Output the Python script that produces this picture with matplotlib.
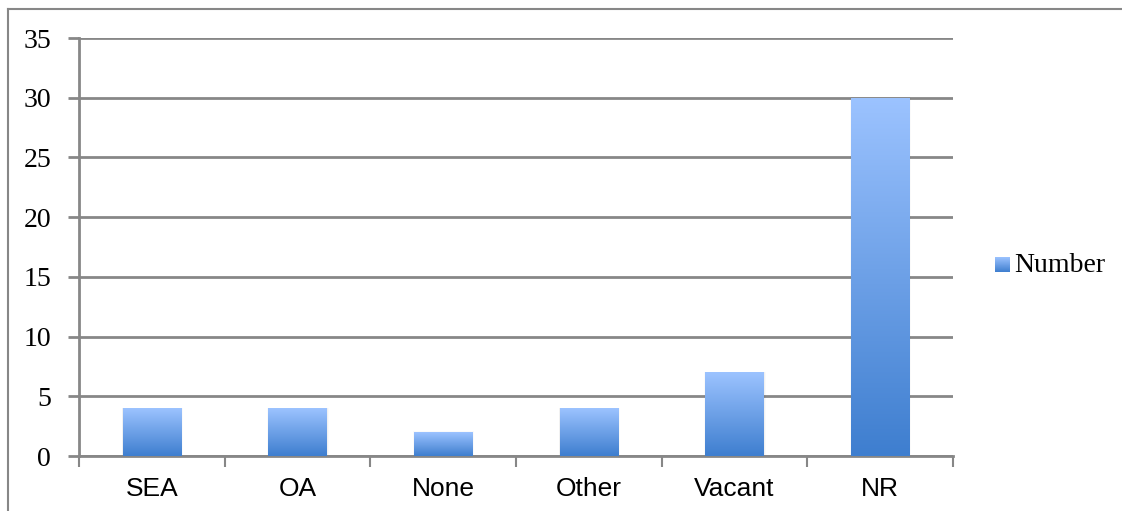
import numpy as np
import matplotlib
matplotlib.use("Agg")
import matplotlib.pyplot as plt
from matplotlib.colors import LinearSegmentedColormap
from matplotlib.lines import Line2D

categories = ["SEA", "OA", "None", "Other", "Vacant", "NR"]
values = [4, 4, 2, 4, 7, 30]
yticks = [0, 5, 10, 15, 20, 25, 30, 35]
series_name = "Number"

grid_col = "#878787"
blue_grad = LinearSegmentedColormap.from_list("bluegrad", ["#3e7ecf", "#9cc3ff"])
grad = np.linspace(0, 1, 256).reshape(-1, 1)

fig = plt.figure(figsize=(11.22, 5.11), dpi=100)
ax = fig.add_axes([79 / 1122, 55 / 511, 874 / 1122, 418 / 511])

x = np.arange(len(categories))
bars = ax.bar(x, values, width=0.4, facecolor="none", edgecolor="none", zorder=3)

# each bar gets its own vertical gradient, dark at the base
for b in bars:
    x0, y0 = b.get_x(), b.get_y()
    w, h = b.get_width(), b.get_height()
    # faint drop shadow
    for k, a in enumerate([0.035, 0.02]):
        d = 0.01 * (k + 1)
        ax.add_patch(plt.Rectangle((x0 - d * 0.3, y0), w + d, h + d * 3,
                                   facecolor="black", alpha=a, edgecolor="none", zorder=2))
    im = ax.imshow(grad, cmap=blue_grad, origin="lower", aspect="auto",
                   extent=[x0, x0 + w, y0, y0 + h], zorder=3)
    im.set_clip_path(b)

ax.set_xlim(-0.5, len(categories) - 0.5)
ax.set_ylim(0, 35)
ax.set_yticks(yticks)
ax.set_yticklabels([str(t) for t in yticks], family="Liberation Serif", fontsize=20)
ax.yaxis.grid(True, color=grid_col, linewidth=2, zorder=1)
ax.set_axisbelow(True)

ax.set_xticks(x)
ax.set_xticklabels(categories, family="Liberation Sans", fontsize=19)
ax.tick_params(axis="x", which="major", length=0, pad=15)
ax.set_xticks(np.arange(len(categories) + 1) - 0.5, minor=True)
ax.tick_params(axis="x", which="minor", length=8, width=1.5, color=grid_col, direction="out")
ax.tick_params(axis="y", length=8, width=2, color=grid_col, pad=12)

for s in ["top", "right"]:
    ax.spines[s].set_visible(False)
for s in ["left", "bottom"]:
    ax.spines[s].set_color(grid_col)
    ax.spines[s].set_linewidth(2)

# legend: gradient swatch plus label
lax = fig.add_axes([995 / 1122, 1 - 272 / 511, 15 / 1122, 15 / 511])
lax.imshow(grad, cmap=blue_grad, origin="lower", aspect="auto")
lax.set_axis_off()
fig.text(1014 / 1122, 1 - 265 / 511, series_name, family="Liberation Serif",
         fontsize=20, va="center", ha="left")

# chart area frame
fig.add_artist(Line2D([8 / 1122, 1.02], [1 - 9 / 511, 1 - 9 / 511], color=grid_col, linewidth=1.5))
fig.add_artist(Line2D([8 / 1122, 8 / 1122], [-0.02, 1 - 9 / 511], color=grid_col, linewidth=1.5))

fig.savefig("out.png", dpi=100)
